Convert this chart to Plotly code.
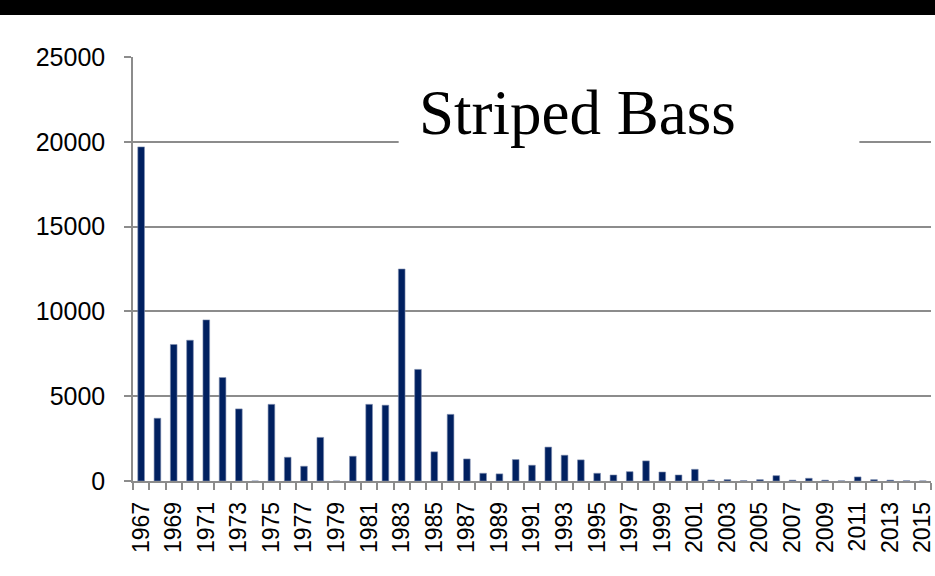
import plotly.graph_objects as go

years = list(range(1967, 2016))
catch = [19700, 3700, 8050, 8300, 9500, 6100, 4250, 0, 4520, 1400,
         870, 2570, 0, 1460, 4520, 4470, 12500, 6580, 1720, 3930,
         1300, 455, 420, 1265, 930, 2000, 1520, 1245, 455, 355,
         550, 1185, 530, 355, 690, 60, 80, 20, 80, 315,
         50, 160, 50, 10, 240, 80, 50, 15, 5]
tick_years = list(range(1967, 2016, 2))
y_ticks = [0, 5000, 10000, 15000, 20000, 25000]
title_text = "Striped Bass"

W, H = 935, 576
L, R, T, B = 133, 0, 57, 95
pw, ph = W - L - R, H - T - B

def px(x):
    return (x - L) / pw

def py(y):
    return (H - B - y) / ph

fig = go.Figure()
fig.add_trace(go.Bar(
    x=years, y=catch,
    marker=dict(color="#002060", line=dict(width=0.6, color="#7f8fb0")),
    width=0.41,
))

grid = "#8c8c8c"
fig.update_layout(
    width=W, height=H,
    margin=dict(l=L, r=R, t=T, b=B),
    paper_bgcolor="white", plot_bgcolor="white",
    showlegend=False,
    font=dict(family="Liberation Sans, Arial, sans-serif", color="black"),
    xaxis=dict(
        range=[1966.5, 2015.5],
        tickvals=tick_years, ticktext=[str(v) for v in tick_years],
        tickangle=-90, ticks="", tickfont=dict(size=23),
        ticklabeloverflow="allow",
        showgrid=False, showline=True, linecolor=grid, linewidth=1.5,
        minor=dict(tick0=1966.5, dtick=1, ticks="outside", ticklen=7,
                   tickcolor=grid, tickwidth=1.5, showgrid=False),
        ticklabelstandoff=10,
        zeroline=False,
    ),
    yaxis=dict(
        range=[0, 25000], tickvals=y_ticks,
        ticktext=[str(v) for v in y_ticks],
        ticks="outside", ticklen=7, tickcolor=grid, tickwidth=1.5,
        tickfont=dict(size=25),
        showgrid=True, gridcolor=grid, gridwidth=1.5,
        showline=True, linecolor=grid, linewidth=1.5,
        zeroline=False, ticklabelstandoff=14,
    ),
    shapes=[
        dict(type="rect", xref="paper", yref="paper",
             x0=px(-5), x1=px(W + 5), y0=py(15), y1=py(-5),
             fillcolor="black", line=dict(width=0), layer="above"),
        dict(type="rect", xref="paper", yref="paper",
             x0=px(400), x1=px(863), y0=py(150), y1=py(75),
             fillcolor="white", line=dict(width=0), layer="above"),
    ],
    annotations=[
        dict(text=title_text, xref="paper", yref="paper",
             x=px(580), y=py(113), xanchor="center", yanchor="middle",
             showarrow=False,
             font=dict(family="Liberation Serif, Times New Roman, serif",
                       size=63, color="black")),
    ],
)

fig.write_html(
    "out.html",
    config={"displayModeBar": False},
    post_script="document.body.style.margin='0';document.body.style.padding='0';"
                "document.documentElement.style.overflow='hidden';",
)
